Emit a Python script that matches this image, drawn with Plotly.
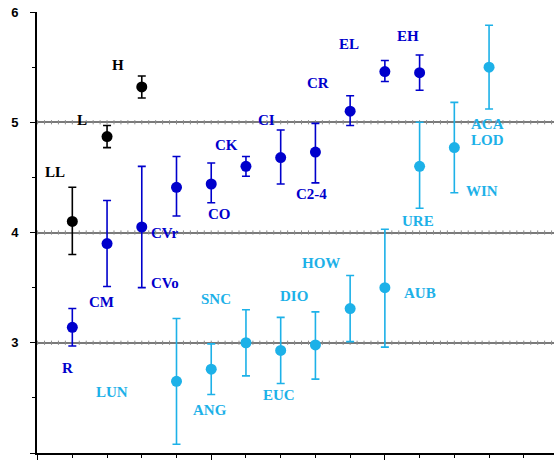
import numpy as np
import plotly.graph_objects as go

# ---------------- data ----------------
black_pos = [1, 2, 3]
black_vals = [4.10, 4.87, 5.32]
black_lo = [3.80, 4.77, 5.22]
black_hi = [4.41, 4.97, 5.42]

blue_pos = [1, 2, 3, 4, 5, 6, 7, 8, 9, 10, 11]
blue_vals = [3.14, 3.90, 4.05, 4.41, 4.44, 4.60, 4.68, 4.73, 5.10, 5.46, 5.45]
blue_lo = [2.97, 3.51, 3.50, 4.15, 4.27, 4.51, 4.44, 4.45, 4.97, 5.37, 5.29]
blue_hi = [3.31, 4.29, 4.60, 4.69, 4.63, 4.69, 4.93, 4.99, 5.24, 5.56, 5.61]

light_pos = [4, 5, 6, 7, 8, 9, 10, 11, 12, 13]
light_vals = [2.65, 2.76, 3.00, 2.93, 2.98, 3.31, 3.50, 4.60, 4.77, 5.50]
light_lo = [2.08, 2.53, 2.70, 2.63, 2.67, 3.01, 2.96, 4.22, 4.36, 5.12]
light_hi = [3.22, 2.99, 3.30, 3.23, 3.28, 3.61, 4.03, 5.00, 5.18, 5.88]

# label text and placement (data coordinates)
black_labels = ["H", "L", "LL"]
black_label_x = [2.31, 1.27, 0.50]
black_label_y = [5.52, 5.02, 4.55]

blue_labels = ["R", "CM", "CVr", "CVo", "CO", "CK", "CI", "C2-4", "CR", "EL", "EH"]
blue_label_x = [0.85, 1.85, 3.67, 3.67, 5.23, 5.43, 6.58, 7.89, 8.07, 8.97, 10.66]
blue_label_y = [2.77, 3.37, 4.00, 3.54, 4.17, 4.79, 5.02, 4.35, 5.36, 5.71, 5.78]

light_labels = ["LUN", "ANG", "SNC", "EUC", "DIO", "HOW", "AUB", "URE", "WIN", "ACA", "LOD"]
light_label_x = [2.14, 4.97, 5.14, 6.95, 7.39, 8.15, 11.01, 10.96, 12.79, 12.95, 12.95]
light_label_y = [2.55, 2.39, 3.40, 2.53, 3.42, 3.72, 3.45, 4.10, 4.38, 4.98, 4.84]

y_ticks = [2, 3, 4, 5, 6]
grid_levels = [3, 4, 5]

BLACK = "#000000"
BLUE = "#0000CC"
LIGHT = "#1DB1E8"

fig = go.Figure()

# small tick decorations on the gridlines
dx = np.round(np.arange(0, 15.0, 0.2), 2)
for g in grid_levels:
    fig.add_trace(go.Scatter(x=dx, y=[g] * len(dx), mode="markers",
                             marker=dict(symbol="line-ns", size=3,
                                         line=dict(width=1, color="#8a8a8a")),
                             hoverinfo="skip"))


def add_series(pos, vals, lo, hi, color):
    v = np.array(vals)
    fig.add_trace(go.Scatter(
        x=pos, y=vals, mode="markers",
        marker=dict(color=color, size=11, line=dict(width=0)),
        error_y=dict(type="data", symmetric=False,
                     array=list(np.array(hi) - v),
                     arrayminus=list(v - np.array(lo)),
                     color=color, thickness=1.6, width=4),
    ))


add_series(black_pos, black_vals, black_lo, black_hi, BLACK)
add_series(blue_pos, blue_vals, blue_lo, blue_hi, BLUE)
add_series(light_pos, light_vals, light_lo, light_hi, LIGHT)

annotations = []
for labels, xs, ys, col in [
    (black_labels, black_label_x, black_label_y, BLACK),
    (blue_labels, blue_label_x, blue_label_y, BLUE),
    (light_labels, light_label_x, light_label_y, LIGHT),
]:
    for t, x, y in zip(labels, xs, ys):
        annotations.append(dict(
            x=x, y=y, text="<b>%s</b>" % t, showarrow=False,
            xanchor="center", yanchor="middle",
            font=dict(family="Liberation Serif", size=15, color=col)))

fig.update_layout(
    width=554, height=460,
    margin=dict(l=37, r=0, t=12, b=7, autoexpand=False),
    paper_bgcolor="white", plot_bgcolor="white",
    showlegend=False,
    annotations=annotations,
    xaxis=dict(range=[-0.017, 14.87], showgrid=False, zeroline=False,
               automargin=False,
               showticklabels=False, showline=True, linecolor="black",
               linewidth=1.5, ticks="outside", tickvals=[0, 5, 10],
               ticklen=6, tickwidth=1, tickcolor="black",
               minor=dict(dtick=1, tick0=0, ticks="outside", ticklen=3,
                          tickcolor="black", showgrid=False)),
    yaxis=dict(range=[2, 6], tickvals=y_ticks, showgrid=True,
               automargin=False,
               gridcolor="#7a7a7a", gridwidth=1.5, zeroline=False,
               showline=True, linecolor="black", linewidth=2,
               ticks="outside", ticklen=5, tickcolor="black",
               ticklabelstandoff=9,
               tickfont=dict(family="Liberation Sans", size=13, color="black",
                             weight="bold"),
               minor=dict(dtick=0.5, tick0=0, ticks="outside", ticklen=3,
                          tickcolor="black", showgrid=False)),
)

fig.write_html("out.html",
               config={"displayModeBar": False},
               post_script="document.body.style.margin='0';"
                           "document.body.style.padding='0';")
